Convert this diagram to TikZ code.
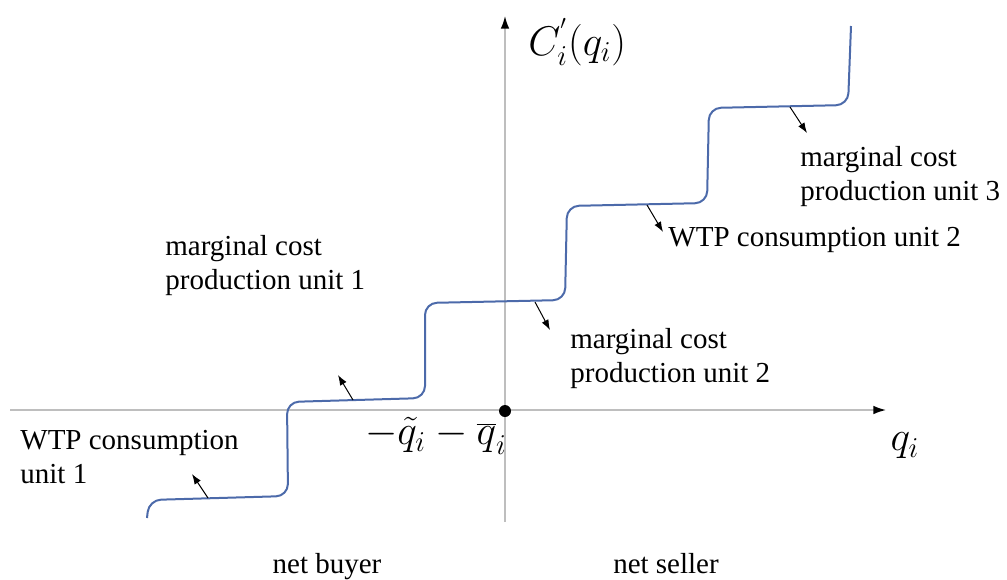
\documentclass[tikz,border=0pt]{standalone}
\usepackage{fontspec}
\setmainfont{Liberation Serif}
\usetikzlibrary{arrows.meta, positioning}
\definecolor{axisGray}{RGB}{190, 190, 190}
\definecolor{curveBlue}{RGB}{76, 106, 170}

\begin{document}
\begin{tikzpicture}[
    x=0.5pt, y=-0.5pt,
    every node/.style={font=\fontsize{14.5}{17}\selectfont, inner sep=0pt},
    axis/.style={axisGray, line width=0.75pt, -{Latex[length=2.2mm, width=1.5mm, color=black]}},
    curve/.style={curveBlue, line width=1pt, rounded corners=6pt},
    note/.style={align=left, anchor=west},
    pointer/.style={-{Latex[length=1.8mm, width=1.3mm]}, black, line width=0.5pt},
    bigmath/.style={font=\fontsize{20}{24}\selectfont}
]
    \useasboundingbox (0,0) rectangle (1007,579);

    % axes
    \coordinate (xstart) at (10,410);
    \coordinate (xend) at (886,410);
    \coordinate (ystart) at (505,522);
    \coordinate (yend) at (505,16);
    \draw[axis] (xstart) -- (xend);
    \draw[axis] (ystart) -- (yend);
    \node[circle, fill=black, minimum size=6pt] (origin) at (505,411) {};

    % staircase
    \draw[curve] (147,518) -- (149,500) -- (288,496) -- (287,402) -- (425,398)
        -- (425,303) -- (565,300) -- (567,206) -- (707,203) -- (709,108)
        -- (848,105) -- (851,26);

    % tails on the curve, heads near the labels
    \coordinate (t1) at (208,498);  \coordinate (h1) at (192,474);
    \coordinate (t2) at (353,400);  \coordinate (h2) at (338,375);
    \coordinate (t3) at (535,302);  \coordinate (h3) at (550,330);
    \coordinate (t4) at (647,205);  \coordinate (h4) at (663,232);
    \coordinate (t5) at (790,107);  \coordinate (h5) at (807,133);
    \draw[pointer] (t1) -- (h1);
    \draw[pointer] (t2) -- (h2);
    \draw[pointer] (t3) -- (h3);
    \draw[pointer] (t4) -- (h4);
    \draw[pointer] (t5) -- (h5);

    \node[note] (wtp1) at (20,457) {WTP consumption\\unit 1};
    \node[note] (mc1) at (165,266) {marginal cost\\production unit 1};
    \node[note] (mc2) at (570,359) {marginal cost\\production unit 2};
    \node[note] (wtp2) at (668,240) {WTP consumption unit 2};
    \node[note] (mc3) at (800,177) {marginal cost\\production unit 3};

    \node[bigmath] (qlow) at (436,436) {$-\tilde{q}_i-\overline{q}_i$};
    \node[bigmath] (qaxis) at (905,446) {$q_i$};
    \node[bigmath, anchor=west] (cprime) at (528,42) {$C_i^{'}\!\left(q_i\right)$};

    \node[anchor=base] (buyer) at (327,573) {net buyer};
    \node[anchor=base] (seller) at (666,573) {net seller};
\end{tikzpicture}
\end{document}
